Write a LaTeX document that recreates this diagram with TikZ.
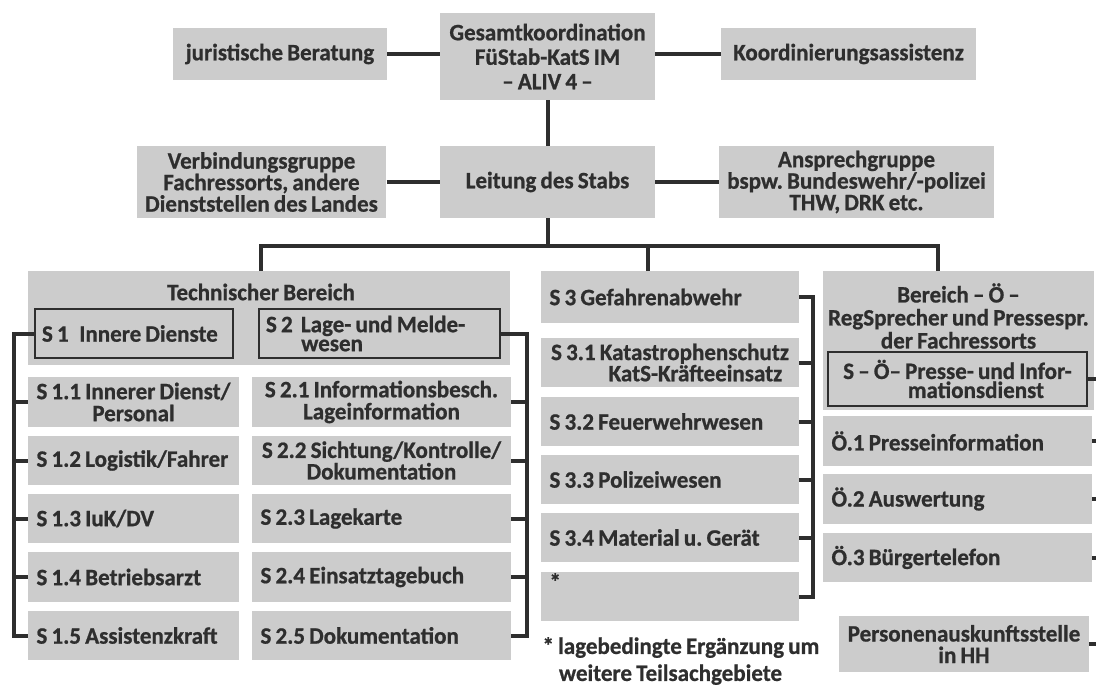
\documentclass[tikz,border=0pt]{standalone}
\usepackage{fontspec}
\setmainfont{Carlito}[FakeStretch=0.98, WordSpace=0.8, BoldFeatures={FakeBold=0.8}]
\frenchspacing
\definecolor{boxgray}{HTML}{CCCCCC}
\definecolor{ink}{HTML}{2E2E2E}
\newcommand\boxfont[1]{\fontsize{23.5}{#1}\selectfont\bfseries}
\tikzset{
  box/.style={fill=boxgray, text=ink, inner xsep=8.5pt, inner ysep=0pt, minimum height=49.5pt},
  cbox/.style={box, align=center},
  lbox/.style={box, text width=#1, align=flush left},
  nbox/.style={box, align=left, inner xsep=2pt},
  subbox/.style={draw=ink, line width=1.2pt, text=ink, inner xsep=7pt, inner ysep=0pt,
    minimum height=49pt, align=flush left},
  link/.style={draw=ink, line width=4pt},
}
\begin{document}
\begin{tikzpicture}[x=1pt, y=-1pt, font=\boxfont{23}]
\useasboundingbox (0,0) rectangle (1096,686);

\node[cbox, minimum width=215pt, minimum height=87pt, font=\boxfont{24.5}] (gesamt) at (547.5,56.5) {Gesamtkoordination\\FüStab-KatS IM\\– ALIV 4 –};
\node[cbox, minimum width=214pt, minimum height=52pt] (jur) at (280,54) {juristische Beratung};
\node[cbox, minimum width=255pt, minimum height=52pt] (koord) at (848.5,54) {Koordinierungsassistenz};
\node[cbox, font=\boxfont{21.5}, minimum width=249pt, minimum height=72pt] (verb) at (261.5,182) {Verbindungsgruppe\\Fachressorts, andere\\Dienststellen des Landes};
\node[cbox, minimum width=215pt, minimum height=72pt] (leitung) at (547.5,182) {Leitung des Stabs};
\node[cbox, font=\boxfont{21.5}, minimum width=271pt, minimum height=72pt] (ansp) at (856.5,182) {Ansprechgruppe\\bspw. Bundeswehr/-polizei\\THW, DRK etc.};

\node[box, minimum width=482pt, minimum height=94pt] (tech) at (269,318) {};
\node[text=ink] (techtitle) at (261,292) {Technischer Bereich};
\node[subbox, text width=184pt] (s1) at (134,333.5) {S 1\hspace{0.45em}Innere Dienste};
\node[subbox, text width=227pt, font=\boxfont{19}] (s2) at (379.5,333.5) {S 2\hspace{0.35em}Lage- und Melde-\\\hspace*{1.5em}wesen};

\node[cbox, minimum width=211pt, font=\boxfont{22}] (s11) at (133.5,402) {S 1.1 Innerer Dienst/\\Personal};
\node[lbox=194pt] (s12) at (133.5,460.5) {S 1.2 Logistik/Fahrer};
\node[lbox=194pt] (s13) at (133.5,518.5) {S 1.3 IuK/DV};
\node[lbox=194pt] (s14) at (133.5,577) {S 1.4 Betriebsarzt};
\node[lbox=194pt] (s15) at (133.5,635.5) {S 1.5 Assistenzkraft};

\node[cbox, minimum width=259pt, font=\boxfont{22}] (s21) at (381.5,402) {S 2.1 Informationsbesch.\\Lageinformation};
\node[cbox, minimum width=259pt, font=\boxfont{20}] (s22) at (381.5,460.5) {S 2.2 Sichtung/Kontrolle/\\Dokumentation};
\node[lbox=242pt] (s23) at (381.5,518.5) {S 2.3 Lagekarte};
\node[lbox=242pt] (s24) at (381.5,577) {S 2.4 Einsatztagebuch};
\node[lbox=242pt] (s25) at (381.5,635.5) {S 2.5 Dokumentation};

\node[lbox=241pt, minimum height=52pt] (s3) at (670,297) {S 3 Gefahrenabwehr};
\node[nbox, minimum width=258pt, font=\boxfont{17.5}] (s31) at (670,362.5) {S 3.1 Katastrophenschutz\\\hspace*{2.45em}KatS-Kräfteeinsatz};
\node[lbox=241pt] (s32) at (670,421.5) {S 3.2 Feuerwehrwesen};
\node[lbox=241pt] (s33) at (670,479.5) {S 3.3 Polizeiwesen};
\node[lbox=241pt] (s34) at (670,537.5) {S 3.4 Material u. Gerät};
\node[lbox=241pt] (s3x) at (670,596.5) {*\\\strut};
\node[text=ink, anchor=west, align=left, font=\boxfont{27}] (note) at (539,661) {* lagebedingte Ergänzung um\\\hspace*{0.7em}weitere Teilsachgebiete};

\node[box, minimum width=271pt, minimum height=139pt] (bereich) at (958.5,340.5) {};
\node[text=ink, align=center] (bertitle) at (958.5,316) {Bereich – Ö –\\RegSprecher und Pressespr.\\der Fachressorts};
\node[subbox, minimum width=259pt, minimum height=54pt, font=\boxfont{19}] (soe) at (957.5,379) {S – Ö– Presse- und Infor-\\\hspace*{2.75em}mationsdienst};
\node[lbox=252pt] (oe1) at (957.5,441) {Ö.1 Presseinformation};
\node[lbox=252pt] (oe2) at (957.5,499) {Ö.2 Auswertung};
\node[lbox=252pt] (oe3) at (957.5,557.5) {Ö.3 Bürgertelefon};
\node[cbox, minimum width=250pt, minimum height=56pt, font=\boxfont{21.5}] (pers) at (964,644) {Personenauskunftsstelle\\in HH};

\coordinate (bus) at (547.5,246);
\coordinate (lbus) at (14,0);
\coordinate (rbus) at (527,0);
\coordinate (sbus) at (813,0);
\coordinate (edge) at (1096,0);
\coordinate (techtop) at ([xshift=-8pt]tech.north);
\coordinate (s3top) at ([xshift=-22pt]s3.north);
\coordinate (bertop) at ([xshift=-20.5pt]bereich.north);

\draw[link] (jur.east) -- (jur.east -| gesamt.west);
\draw[link] (koord.west) -- (koord.west -| gesamt.east);
\draw[link] (gesamt) -- (leitung);
\draw[link] (verb) -- (leitung);
\draw[link] (ansp.west) -- (ansp.west -| leitung.east);
\draw[link] (leitung.south) -- (bus);
\draw[link] (techtop) -- (techtop |- bus) -- (bertop |- bus) -- (bertop);
\draw[link] (s3top) -- (s3top |- bus);

\draw[link] (s1.west) -| (lbus |- s15.west) -- (s15.west);
\foreach \n in {s11,s12,s13,s14}
  \draw[link] (\n.west) -- (lbus |- \n.west);
\draw[link] (s2.east) -| (rbus |- s25.east) -- (s25.east);
\foreach \n in {s21,s22,s23,s24}
  \draw[link] (\n.east) -- (rbus |- \n.east);
\draw[link] (s3.east) -| (sbus |- s3x.east) -- (s3x.east);
\foreach \n in {s31,s32,s33,s34}
  \draw[link] (\n.east) -- (sbus |- \n.east);
\foreach \n in {soe,oe1,oe2,oe3,pers}
  \draw[link] (\n.east) -- (edge |- \n.east);
\end{tikzpicture}
\end{document}
